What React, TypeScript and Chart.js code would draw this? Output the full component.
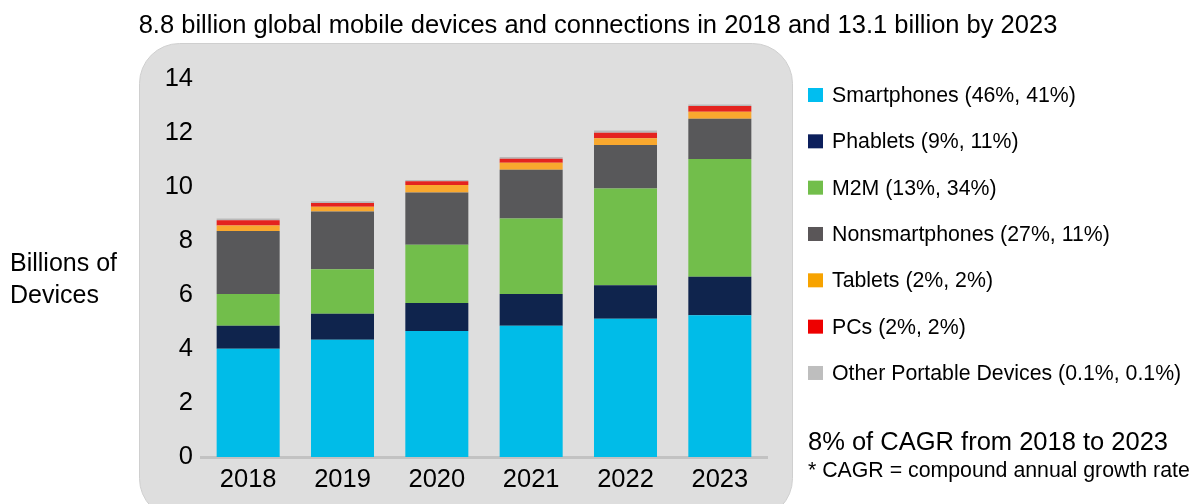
import React, { useEffect, useRef } from "react";
import { Chart, registerables } from "chart.js";

Chart.register(...registerables);

const years = ["2018", "2019", "2020", "2021", "2022", "2023"];
const smartphones = [4.01, 4.34, 4.67, 4.86, 5.12, 5.25];
const phablets = [0.85, 0.97, 1.03, 1.18, 1.24, 1.43];
const m2m = [1.18, 1.64, 2.16, 2.79, 3.58, 4.36];
const nonsmartphones = [2.33, 2.14, 1.94, 1.81, 1.62, 1.49];
const tablets = [0.2, 0.18, 0.27, 0.26, 0.25, 0.26];
const pcs = [0.2, 0.14, 0.14, 0.15, 0.2, 0.21];
const otherPortable = [0.06, 0.06, 0.05, 0.06, 0.08, 0.06];

const seriesLabels = [
  "Smartphones (46%, 41%)",
  "Phablets (9%, 11%)",
  "M2M (13%, 34%)",
  "Nonsmartphones (27%, 11%)",
  "Tablets (2%, 2%)",
  "PCs (2%, 2%)",
  "Other Portable Devices (0.1%, 0.1%)",
];
const seriesColors = ["#00BCE8", "#0F244D", "#72BE4B", "#58585A", "#F9A82E", "#E4231F", "#B9B9B9"];
const legendColors = ["#00BEF0", "#0C1F5C", "#72BE4B", "#5A5658", "#F7A300", "#EE0000", "#BEBEBE"];

const yMin = 0;
const yMax = 14;
const yStep = 2;

const titleText = "8.8 billion global mobile devices and connections in 2018 and 13.1 billion by 2023";
const yAxisLabel = ["Billions of", "Devices"];
const cagrText = "8% of CAGR from 2018 to 2023";
const cagrNote = "* CAGR = compound annual growth rate";

const FONT = '"Liberation Sans", Arial, Helvetica, sans-serif';

export default function App() {
  const ref = useRef<HTMLCanvasElement>(null);

  useEffect(() => {
    document.body.style.margin = "0";
    const canvas = ref.current!;
    const seriesData = [smartphones, phablets, m2m, nonsmartphones, tablets, pcs, otherPortable];

    const deco = {
      id: "deco",
      beforeDraw(chart: any) {
        const ctx = chart.ctx as CanvasRenderingContext2D;
        ctx.save();
        ctx.beginPath();
        (ctx as any).roundRect(139.5, 43.5, 653, 475, 40);
        ctx.fillStyle = "#dedede";
        ctx.fill();
        ctx.strokeStyle = "#cfcfcf";
        ctx.lineWidth = 1;
        ctx.stroke();
        ctx.restore();
      },
      afterDraw(chart: any) {
        const ctx = chart.ctx as CanvasRenderingContext2D;
        ctx.save();
        ctx.fillStyle = "#000";
        ctx.textBaseline = "middle";
        // title
        ctx.font = `25.5px ${FONT}`;
        ctx.textAlign = "center";
        ctx.fillText(titleText, 598, 26);
        // y axis label
        ctx.textAlign = "left";
        ctx.font = `25px ${FONT}`;
        ctx.fillText(yAxisLabel[0], 10, 264);
        ctx.fillText(yAxisLabel[1], 10, 296);
        // legend
        ctx.font = `21.3px ${FONT}`;
        chart.data.datasets.forEach((ds: any, i: number) => {
          const cy = 95 + i * 46.33;
          ctx.fillStyle = legendColors[i];
          ctx.fillRect(808, cy - 7, 15, 14);
          ctx.fillStyle = "#000";
          ctx.fillText(ds.label, 832, cy + 1);
        });
        // CAGR
        ctx.font = `25.5px ${FONT}`;
        ctx.fillText(cagrText, 808, 443);
        ctx.font = `21.3px ${FONT}`;
        ctx.fillText(cagrNote, 808, 471);
        ctx.restore();
      },
    };

    const chart = new Chart(canvas, {
      type: "bar",
      data: {
        labels: years,
        datasets: seriesData.map((d, i) => ({
          label: seriesLabels[i],
          data: d,
          backgroundColor: seriesColors[i],
          borderWidth: 0,
          barPercentage: 0.668,
          categoryPercentage: 1,
        })),
      },
      options: {
        responsive: false,
        animation: false,
        devicePixelRatio: 1,
        layout: { padding: { left: 140, right: 426, top: 79, bottom: 0 } },
        plugins: {
          legend: { display: false },
          title: { display: false },
          tooltip: { enabled: false },
        },
        scales: {
          x: {
            stacked: true,
            grid: { display: false, drawTicks: false },
            border: { display: true, color: "#c2c2c2", width: 3 },
            ticks: { color: "#000", font: { family: FONT, size: 25.5 }, padding: 8, maxRotation: 0, autoSkip: false },
            afterFit: (s: any) => {
              s.height = 47;
            },
          },
          y: {
            stacked: true,
            min: yMin,
            max: yMax,
            grid: { display: false, drawTicks: false },
            border: { display: false },
            ticks: { stepSize: yStep, color: "#000", font: { family: FONT, size: 25.5 }, padding: 8 },
            afterFit: (s: any) => {
              s.width = 61;
            },
          },
        },
      },
      plugins: [deco],
    });
    return () => chart.destroy();
  }, []);

  return (
    <div style={{ position: "absolute", left: 0, top: 0, width: 1193, height: 504 }}>
      <canvas ref={ref} width={1193} height={504} style={{ display: "block" }} />
    </div>
  );
}
